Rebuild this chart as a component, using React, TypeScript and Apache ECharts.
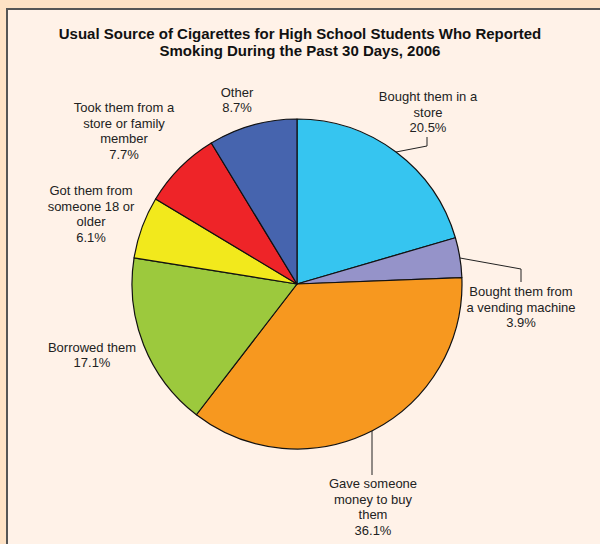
import React, { useEffect, useRef } from "react";
import * as echarts from "echarts";

const categories = [
  "Bought them in a\nstore",
  "Bought them from\na vending machine",
  "Gave someone\nmoney to buy\nthem",
  "Borrowed them",
  "Got them from\nsomeone 18 or\nolder",
  "Took them from a\nstore or family\nmember",
  "Other",
];
const values = [20.5, 3.9, 36.1, 17.1, 6.1, 7.7, 8.7];
const colors = ["#36c5f0", "#9593c9", "#f7981f", "#9cc93d", "#f2e91c", "#ee2428", "#4664ae"];
const titleText =
  "Usual Source of Cigarettes for High School Students Who Reported\nSmoking During the Past 30 Days, 2006";

// label placement (center x, middle y) and optional leader line
const labelPos: [number, number][] = [
  [428, 112],
  [521, 307],
  [373, 507],
  [92, 355],
  [91, 214],
  [124, 131],
  [237, 100],
];
const leaderLines: ([number, number][] | null)[] = [
  [[396, 152], [427, 146], [427, 137]],
  [[460, 258], [521, 269], [521, 282]],
  [[372, 431], [372, 452], [372, 475]],
  null,
  null,
  null,
  null,
];

export default function App() {
  const ref = useRef<HTMLDivElement>(null);
  useEffect(() => {
    if (!ref.current) return;
    const chart = echarts.init(ref.current, null, { renderer: "svg" });
    chart.setOption({
      animation: false,
      backgroundColor: "#fee2c5",
      graphic: [
        {
          type: "rect",
          z: -10,
          silent: true,
          shape: { x: 7, y: 9, width: 620, height: 560 },
          style: { fill: "#fff2e8", stroke: "#555", lineWidth: 2 },
        },
      ],
      title: {
        text: titleText,
        left: "center",
        top: 20,
        textStyle: {
          fontFamily: "Liberation Sans, Arial, sans-serif",
          fontSize: 15,
          fontWeight: "bold",
          lineHeight: 17,
          color: "#111",
        },
      },
      series: [
        {
          type: "pie",
          center: [297, 284],
          radius: 165,
          startAngle: 90,
          clockwise: true,
          avoidLabelOverlap: false,
          itemStyle: { borderColor: "#111", borderWidth: 1.2 },
          label: {
            show: true,
            position: "outside",
            formatter: (p: any) => `${p.name}\n${p.value}%`,
            fontFamily: "Liberation Sans, Arial, sans-serif",
            fontSize: 13,
            lineHeight: 15.5,
            color: "#222",
            align: "center",
          },
          labelLine: { show: true, lineStyle: { color: "#222", width: 1 }, length: 10, length2: 10 },
          labelLayout: (params: any) => {
            const i = params.dataIndex;
            const out: any = {
              x: labelPos[i][0],
              y: labelPos[i][1],
              align: "center",
              verticalAlign: "middle",
            };
            if (leaderLines[i]) out.labelLinePoints = leaderLines[i];
            return out;
          },
          data: categories.map((c, i) => ({
            name: c,
            value: values[i],
            itemStyle: { color: colors[i] },
            labelLine: { show: leaderLines[i] !== null },
          })),
        },
      ],
    });
    return () => chart.dispose();
  }, []);
  return (
    <div
      ref={ref}
      style={{ position: "absolute", left: 0, top: 0, width: 600, height: 544 }}
    />
  );
}
